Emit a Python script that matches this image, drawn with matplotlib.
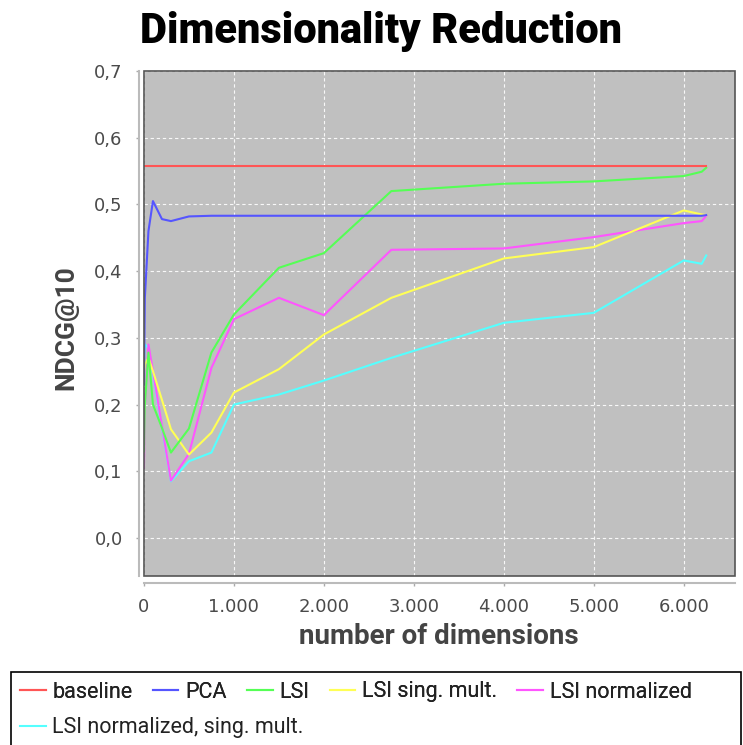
import matplotlib
matplotlib.use("Agg")
import matplotlib.pyplot as plt
from matplotlib.patches import Rectangle
from matplotlib.ticker import FixedLocator, FuncFormatter

# values
dims = [0, 10, 50, 100, 200, 300, 500, 750, 1000, 1500, 2000, 2750, 4000, 5000, 6000, 6200, 6250]
baseline_dims = [0, 6250]
baseline = [0.558, 0.558]
pca = [0.23, 0.36, 0.46, 0.505, 0.478, 0.475, 0.482, 0.483, 0.483, 0.483, 0.483, 0.483,
       0.483, 0.483, 0.483, 0.483, 0.484]
lsi = [0.13, 0.2, 0.278, 0.2, 0.165, 0.128, 0.164, 0.278, 0.335, 0.405, 0.427, 0.52,
       0.531, 0.5345, 0.5425, 0.549, 0.555]
lsi_sing = [0.25, 0.26, 0.27, 0.25, 0.207, 0.163, 0.125, 0.158, 0.218, 0.253, 0.305, 0.36,
            0.419, 0.436, 0.491, 0.485, 0.484]
lsi_norm = [0.105, 0.2, 0.29, 0.25, 0.168, 0.086, 0.126, 0.255, 0.328, 0.36, 0.334, 0.432,
            0.434, 0.451, 0.472, 0.475, 0.483]
lsi_norm_sing = [0.27, 0.29, 0.285, 0.245, 0.165, 0.085, 0.115, 0.128, 0.2, 0.215, 0.236, 0.27,
                 0.3225, 0.3375, 0.416, 0.411, 0.4235]

x_ticks = [0, 1000, 2000, 3000, 4000, 5000, 6000]
y_ticks = [0.0, 0.1, 0.2, 0.3, 0.4, 0.5, 0.6, 0.7]

series = [
    ("baseline", baseline_dims, baseline, "#FF5555"),
    ("PCA", dims, pca, "#5555FF"),
    ("LSI", dims, lsi, "#55FF55"),
    ("LSI sing. mult.", dims, lsi_sing, "#FFFF55"),
    ("LSI normalized", dims, lsi_norm, "#FF55FF"),
    ("LSI normalized, sing. mult.", dims, lsi_norm_sing, "#55FFFF"),
]

W, H = 743, 745
fig = plt.figure(figsize=(W / 100, H / 100), dpi=100)
fig.patch.set_facecolor("white")

left, right, top, bottom = 143.5, 735, 71, 576
ax = fig.add_axes([left / W, 1 - bottom / H, (right - left) / W, (bottom - top) / H])
ax.set_facecolor("#C0C0C0")

handles = []
for i, (name, xs, ys, color) in enumerate(series):
    (line,) = ax.plot(xs, ys, color=color, linewidth=1.5, label=name, zorder=10 - i)
    handles.append(line)

ax.set_xlim(-5, 6570)
ax.set_ylim(-0.057, 0.7)

ax.xaxis.set_major_locator(FixedLocator(x_ticks))
ax.yaxis.set_major_locator(FixedLocator(y_ticks))
ax.xaxis.set_major_formatter(FuncFormatter(lambda v, p: f"{int(v):,}".replace(",", ".")))
ax.yaxis.set_major_formatter(FuncFormatter(lambda v, p: f"{v:.1f}".replace(".", ",")))

ax.grid(True, color="white", linewidth=0.8, linestyle=(0, (3, 2.5)), alpha=0.9)
ax.set_axisbelow(True)

for spine in ["top", "right"]:
    ax.spines[spine].set_visible(False)
for spine in ["left", "bottom"]:
    ax.spines[spine].set_color("#BBBBBB")
    ax.spines[spine].set_linewidth(1.5)
ax.spines["left"].set_position(("outward", 3))
ax.spines["bottom"].set_position(("outward", 5))

ax.add_patch(Rectangle((0, 0), 1, 1, transform=ax.transAxes, fill=False,
                       edgecolor="#555555", linewidth=1.2, zorder=20, clip_on=False))

ax.tick_params(axis="both", direction="out", length=2.5, width=1, color="#AAAAAA",
               labelsize=13, labelcolor="#4A4A4A")
ax.tick_params(axis="y", pad=9.5)
ax.tick_params(axis="x", pad=8)

label_font = dict(fontsize=20, fontweight="bold", family=["Roboto", "DejaVu Sans"],
                  color="#444444")
ax.set_xlabel("number of dimensions", **label_font)
ax.xaxis.label.set_verticalalignment("center")
ax.xaxis.set_label_coords(0.5, (bottom - 636) / (bottom - top))
ax.set_ylabel("NDCG@10", fontsize=19, fontweight="bold", family=["Roboto", "DejaVu Sans"],
              color="#444444")
ax.yaxis.label.set_verticalalignment("center")
ax.yaxis.set_label_coords((66 - left) / (right - left), (bottom - 328) / (bottom - top))

fig.text(381 / W, 1 - 32 / H, "Dimensionality Reduction", ha="center", va="center",
         fontsize=30, fontweight="black", family=["Roboto", "DejaVu Sans"], color="black")

# legend box, cut off by the bottom/right edge like the original
fig.patches.append(Rectangle((11 / W, -0.02), 730 / W, 0.02 + 1 - 672 / H,
                             transform=fig.transFigure, fill=False, edgecolor="black",
                             linewidth=1.2))

legend_kw = dict(frameon=False, borderpad=0, handlelength=1.2, handletextpad=0.3,
                 columnspacing=0.95, prop={"family": ["Roboto", "DejaVu Sans"], "size": 15.5})
leg1 = fig.legend(handles[:5], [s[0] for s in series[:5]], loc="center left",
                  bbox_to_anchor=(9 / W, 1 - 692 / H), ncol=5, labelcolor="#222222",
                  **legend_kw)
fig.legend(handles[5:], [series[5][0]], loc="center left",
           bbox_to_anchor=(9 / W, 1 - 728 / H), ncol=1, labelcolor="#222222", **legend_kw)
fig.add_artist(leg1)

fig.savefig("out.png", dpi=100)
